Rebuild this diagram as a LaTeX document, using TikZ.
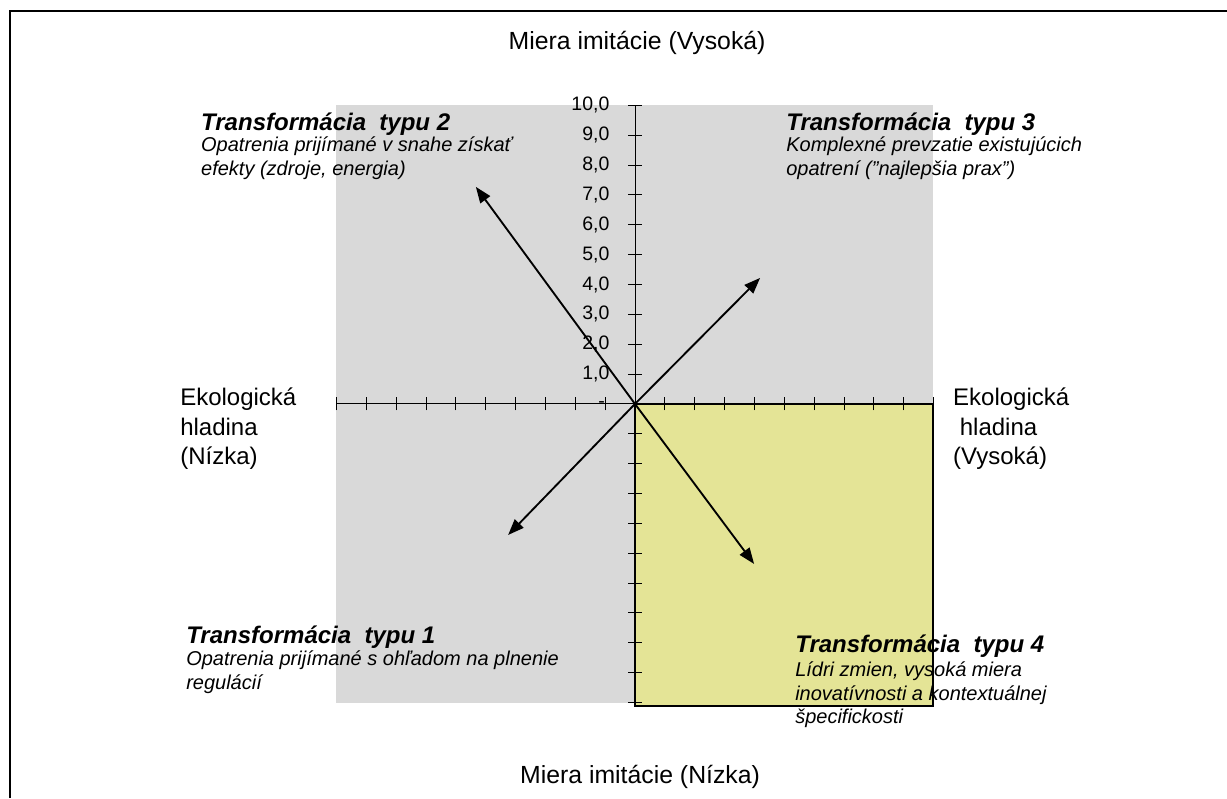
\documentclass[tikz,border=0pt]{standalone}
\usepackage{fontspec}
\setmainfont{Liberation Sans}
\usetikzlibrary{arrows.meta}

\definecolor{plotgrey}{RGB}{217,217,217}
\definecolor{quadyellow}{RGB}{228,228,150}

\tikzset{
    axislbl/.style={inner sep=0pt,font=\fontsize{18.6}{22.5}\selectfont},
    sidelbl/.style={inner sep=0pt,align=left,anchor=base west,font=\fontsize{18}{22.2}\selectfont},
    ticklbl/.style={inner sep=0pt,anchor=east,font=\fontsize{14.6}{17}\selectfont},
    ttl/.style={inner sep=0pt,anchor=base west,font=\fontsize{18}{22}\selectfont\bfseries\itshape},
    dsc/.style={inner sep=0pt,anchor=base west,align=left,font=\fontsize{15}{18}\selectfont\itshape},
    arr/.style={line width=1.4pt,-{Triangle[length=12pt,width=9pt]}},
    tck/.style={line width=0.7pt}
}

\begin{document}
\begin{tikzpicture}[x=22.39pt,y=22.39pt]
    \useasboundingbox (-21.27,-13.2) rectangle (19.83,13.53);

    % frame
    \draw[line width=1.6pt] (-20.94,-13.2) -- (-20.94,13.17) -- (19.83,13.17);

    % quadrants
    \fill[plotgrey] (-10,-10.02) rectangle (9.98,10.02);
    \draw[fill=quadyellow,line width=1.2pt] (0,0) rectangle (9.98,-10.12);

    % axes
    \draw[tck] (-10,0) -- (10,0);
    \draw[tck] (0,-10.1) -- (0,10);
    \foreach \k in {-10,...,10} {
        \draw[tck] (\k,-0.22) -- (\k,0.22);
        \draw[tck] (-0.22,\k) -- (0.22,\k);
    }
    \foreach \k in {1,...,10}
        \node[ticklbl] (y\k) at (-0.85,\k) {\k,0};
    \node[ticklbl] (y0) at (-1.0,-0.02) {-};

    % axis labels (base of a multi-line node = last line)
    \node[axislbl,anchor=base] (top) at (0.07,11.86) {Miera imitácie (Vysoká)};
    \node[axislbl,anchor=base] (bottom) at (0.17,-12.73) {Miera imitácie (Nízka)};
    \node[sidelbl] (left) at (-15.24,-2.04) {Ekologická\\hladina\\(Nízka)};
    \node[sidelbl] (right) at (10.65,-2.04) {Ekologická\\\hspace*{5pt}hladina\\(Vysoká)};

    % quadrant texts
    \node[ttl] (t2) at (-14.54,9.15) {Transformácia\ \ typu 2};
    \node[dsc] (d2) at (-14.54,7.64) {Opatrenia prijímané v snahe získať\\efekty (zdroje, energia)};
    \node[ttl] (t3) at (5.06,9.15) {Transformácia\ \ typu 3};
    \node[dsc] (d3) at (5.06,7.64) {Komplexné prevzatie existujúcich\\opatrení (\symbol{34}najlepšia prax\symbol{34})};
    \node[ttl] (t1) at (-15.04,-8.01) {Transformácia\ \ typu 1};
    \node[dsc] (d1) at (-15.04,-9.58) {Opatrenia prijímané s ohľadom na plnenie\\regulácií};
    \node[ttl] (t4) at (5.36,-8.34) {Transformácia\ \ typu 4};
    \node[dsc,font=\fontsize{15}{17.3}\selectfont\itshape] (d4) at (5.36,-10.69) {Lídri zmien, vysoká miera\\inovatívnosti a kontextuálnej\\špecifickosti};

    % arrows
    \coordinate (o) at (0,0);
    \coordinate (e1) at (-4.25,-4.39);
    \coordinate (e2) at (-5.33,7.27);
    \coordinate (e3) at (4.19,4.22);
    \coordinate (e4) at (3.99,-5.36);
    \draw[arr] (o) -- (e1);
    \draw[arr] (o) -- (e2);
    \draw[arr] (o) -- (e3);
    \draw[arr] (o) -- (e4);
\end{tikzpicture}
\end{document}
